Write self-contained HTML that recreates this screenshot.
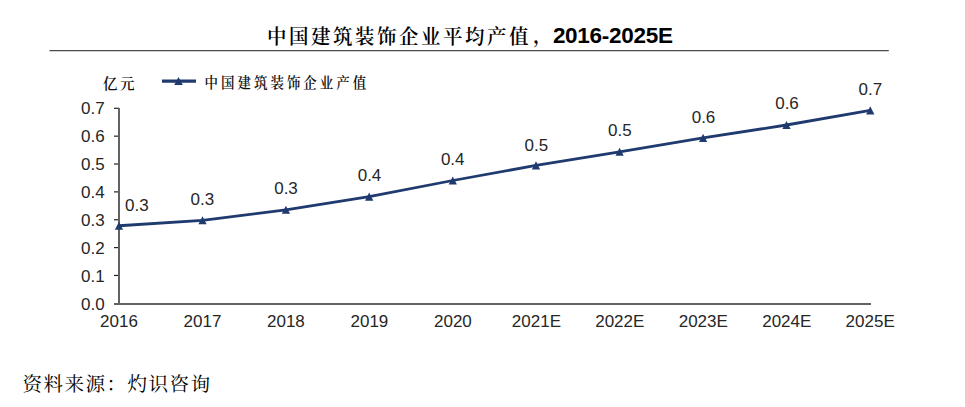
<!DOCTYPE html>
<html><head><meta charset="utf-8"><style>
html,body{margin:0;padding:0;background:#fff;}
body{width:965px;height:407px;overflow:hidden;}
svg{display:block;}
.num{font-family:"Liberation Sans",sans-serif;font-size:17px;fill:#262626;}
.leg0{font-family:"Noto Serif CJK SC","Liberation Serif",serif;font-size:14.5px;letter-spacing:2.6px;font-weight:600;fill:#111;}
.leg{font-family:"Noto Serif CJK SC","Liberation Serif",serif;font-weight:600;fill:#111;}
.tcjk{font-family:"Noto Serif CJK SC","Liberation Serif",serif;font-weight:600;fill:#000;}
.title{font-family:"Liberation Sans","Noto Serif CJK SC",sans-serif;font-size:22px;font-weight:bold;fill:#000;}
.src{font-family:"Liberation Serif","Noto Serif CJK SC",serif;font-size:19.6px;letter-spacing:1.42px;fill:#000;}
</style></head><body>
<svg width="965" height="407" viewBox="0 0 965 407">
<text x="104.6" y="309.8" text-anchor="end" class="num">0.0</text>
<line x1="114" y1="275.46" x2="119" y2="275.46" stroke="#222" stroke-width="1.2"/>
<text x="104.6" y="281.8" text-anchor="end" class="num">0.1</text>
<line x1="114" y1="247.60" x2="119" y2="247.60" stroke="#222" stroke-width="1.2"/>
<text x="104.6" y="253.8" text-anchor="end" class="num">0.2</text>
<line x1="114" y1="219.74" x2="119" y2="219.74" stroke="#222" stroke-width="1.2"/>
<text x="104.6" y="225.8" text-anchor="end" class="num">0.3</text>
<line x1="114" y1="191.88" x2="119" y2="191.88" stroke="#222" stroke-width="1.2"/>
<text x="104.6" y="197.8" text-anchor="end" class="num">0.4</text>
<line x1="114" y1="164.02" x2="119" y2="164.02" stroke="#222" stroke-width="1.2"/>
<text x="104.6" y="169.8" text-anchor="end" class="num">0.5</text>
<line x1="114" y1="136.16" x2="119" y2="136.16" stroke="#222" stroke-width="1.2"/>
<text x="104.6" y="141.8" text-anchor="end" class="num">0.6</text>
<line x1="114" y1="108.30" x2="119" y2="108.30" stroke="#222" stroke-width="1.2"/>
<text x="104.6" y="113.8" text-anchor="end" class="num">0.7</text>
<line x1="119" y1="108" x2="119" y2="305" stroke="#626262" stroke-width="2"/>
<line x1="114" y1="304" x2="871" y2="304" stroke="#626262" stroke-width="2"/>
<text x="119.0" y="326.6" text-anchor="middle" class="num">2016</text>
<text x="202.5" y="326.6" text-anchor="middle" class="num">2017</text>
<text x="285.9" y="326.6" text-anchor="middle" class="num">2018</text>
<text x="369.4" y="326.6" text-anchor="middle" class="num">2019</text>
<text x="452.9" y="326.6" text-anchor="middle" class="num">2020</text>
<text x="536.4" y="326.6" text-anchor="middle" class="num">2021E</text>
<text x="619.8" y="326.6" text-anchor="middle" class="num">2022E</text>
<text x="703.3" y="326.6" text-anchor="middle" class="num">2023E</text>
<text x="786.8" y="326.6" text-anchor="middle" class="num">2024E</text>
<text x="870.2" y="326.6" text-anchor="middle" class="num">2025E</text>
<polyline points="119.00,225.75 202.50,220.30 285.90,209.85 369.20,196.65 452.80,180.50 536.00,165.45 619.60,151.85 703.10,137.95 786.50,125.00 870.25,110.40" fill="none" stroke="#1f3a6e" stroke-width="2.8" stroke-linejoin="round"/>
<polygon points="119.00,221.65 123.10,229.75 114.90,229.75" fill="#1f3a6e"/>
<polygon points="202.50,216.20 206.60,224.30 198.40,224.30" fill="#1f3a6e"/>
<polygon points="285.90,205.75 290.00,213.85 281.80,213.85" fill="#1f3a6e"/>
<polygon points="369.20,192.55 373.30,200.65 365.10,200.65" fill="#1f3a6e"/>
<polygon points="452.80,176.40 456.90,184.50 448.70,184.50" fill="#1f3a6e"/>
<polygon points="536.00,161.35 540.10,169.45 531.90,169.45" fill="#1f3a6e"/>
<polygon points="619.60,147.75 623.70,155.85 615.50,155.85" fill="#1f3a6e"/>
<polygon points="703.10,133.85 707.20,141.95 699.00,141.95" fill="#1f3a6e"/>
<polygon points="786.50,120.90 790.60,129.00 782.40,129.00" fill="#1f3a6e"/>
<polygon points="870.25,106.30 874.35,114.40 866.15,114.40" fill="#1f3a6e"/>
<text x="136.9" y="210.8" text-anchor="middle" class="num">0.3</text>
<text x="202.4" y="204.9" text-anchor="middle" class="num">0.3</text>
<text x="286.0" y="193.8" text-anchor="middle" class="num">0.3</text>
<text x="369.5" y="180.7" text-anchor="middle" class="num">0.4</text>
<text x="452.7" y="164.6" text-anchor="middle" class="num">0.4</text>
<text x="536.3" y="150.7" text-anchor="middle" class="num">0.5</text>
<text x="619.9" y="136.4" text-anchor="middle" class="num">0.5</text>
<text x="703.5" y="123.0" text-anchor="middle" class="num">0.6</text>
<text x="787.0" y="108.7" text-anchor="middle" class="num">0.6</text>
<text x="870.4" y="94.7" text-anchor="middle" class="num">0.7</text>
<text x="103" y="89" class="leg0">亿元</text>
<line x1="162" y1="81.2" x2="196" y2="81.2" stroke="#1f3a6e" stroke-width="3.2"/>
<polygon points="178.5,76.9 182.8,85 174.2,85" fill="#1f3a6e"/>
<text transform="translate(204.5,87.6) scale(0.9,1)" x="0" y="0" class="leg" style="font-size:15px;letter-spacing:3.33px">中国建筑装饰企业产值</text>
<text transform="translate(268,43.6) scale(0.95,1)" x="-1" y="0" class="tcjk" style="font-size:20.5px;letter-spacing:2.66px">中国建筑装饰企业平均产值</text>
<text transform="translate(270.2,43.6) scale(0.95,1)" x="276.59" y="-1" class="tcjk" style="font-size:20.5px">，</text>
<text x="552.9" y="43.1" class="title" style="font-size:22.5px;letter-spacing:-0.28px">2016-2025E</text>
<line x1="49.5" y1="50.6" x2="888.8" y2="50.6" stroke="#4a4a4a" stroke-width="1.2"/>
<text x="22.4" y="391.3" class="src">资料来源：灼识咨询</text>
</svg>
</body></html>
